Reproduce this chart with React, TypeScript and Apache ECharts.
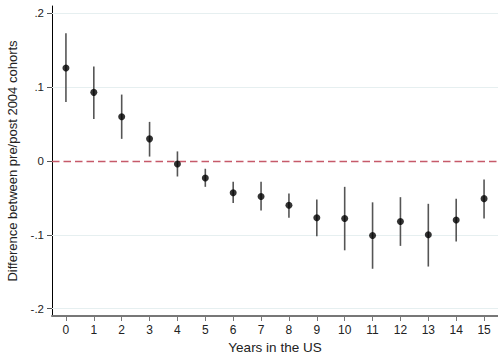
import React, { useEffect, useRef } from "react";
import * as echarts from "echarts";

// Years since arrival (x categories)
const years: string[] = ["0", "1", "2", "3", "4", "5", "6", "7", "8", "9", "10", "11", "12", "13", "14", "15"];
// Point estimates of the pre/post 2004 cohort difference
const estimates: number[] = [0.126, 0.093, 0.06, 0.03, -0.004, -0.023, -0.043, -0.048, -0.06, -0.077, -0.078, -0.101, -0.082, -0.1, -0.08, -0.051];
// Upper and lower confidence bounds
const upper: number[] = [0.173, 0.128, 0.09, 0.053, 0.013, -0.0105, -0.028, -0.028, -0.044, -0.052, -0.035, -0.056, -0.049, -0.058, -0.051, -0.025];
const lower: number[] = [0.08, 0.057, 0.03, 0.006, -0.021, -0.035, -0.057, -0.067, -0.077, -0.102, -0.121, -0.146, -0.115, -0.143, -0.109, -0.078];
// Y tick values
const yTicks: number[] = [-0.2, -0.1, 0, 0.1, 0.2];

const FONT = "Liberation Sans, Arial, Helvetica, sans-serif";

function fmtTick(v: number): string {
  if (Math.abs(v) < 1e-9) return "0";
  const s = String(Math.abs(Math.round(v * 1000) / 1000)).replace(/^0\./, ".");
  return (v < 0 ? "-" : "") + s;
}

export default function App() {
  const ref = useRef<HTMLDivElement>(null);
  useEffect(() => {
    if (!ref.current) return;
    const chart = echarts.init(ref.current, undefined, { renderer: "svg" });
    chart.setOption({
      animation: false,
      backgroundColor: "#ffffff",
      grid: { left: 52, right: 0, top: 6, bottom: 42, containLabel: false, outerBoundsMode: "none" },
      xAxis: {
        type: "category",
        data: years,
        boundaryGap: true,
        name: "Years in the US",
        nameLocation: "middle",
        nameGap: 23,
        nameTextStyle: { fontFamily: FONT, fontSize: 13.5, color: "#222" },
        axisLine: { show: true, onZero: false, lineStyle: { color: "#777", width: 2 } },
        axisTick: { show: true, alignWithLabel: true, length: 5, lineStyle: { color: "#777", width: 1 } },
        axisLabel: { fontFamily: FONT, fontSize: 12, color: "#222", margin: 8 },
        splitLine: { show: false },
      },
      yAxis: {
        type: "value",
        min: -0.21,
        max: 0.21,
        name: "Difference between pre/post 2004 cohorts",
        nameLocation: "middle",
        nameGap: 33,
        nameRotate: 90,
        nameTextStyle: { fontFamily: FONT, fontSize: 13, color: "#222" },
        axisLine: { show: true, lineStyle: { color: "#000", width: 1 } },
        axisTick: { show: true, length: 5, customValues: yTicks, lineStyle: { color: "#555" } },
        axisLabel: {
          fontFamily: FONT,
          fontSize: 11.5,
          color: "#222",
          margin: 8,
          customValues: yTicks,
          formatter: (v: number) => fmtTick(v),
        },
        splitLine: { show: false },
      },
      series: [
        {
          // light reference gridlines
          type: "line",
          data: [],
          silent: true,
          z: 0,
          markLine: {
            silent: true,
            z: 1,
            symbol: "none",
            label: { show: false },
            lineStyle: { color: "#e6eff0", width: 1.2, type: "solid" },
            data: yTicks.filter((t) => t !== 0).map((t) => ({ yAxis: t })),
          },
        },
        {
          // confidence intervals
          type: "custom",
          data: years.map((_, i) => [i, lower[i], upper[i]]),
          renderItem: (params: any, api: any) => {
            const x = api.value(0);
            const lo = api.coord([x, api.value(1)]);
            const hi = api.coord([x, api.value(2)]);
            return {
              type: "line",
              shape: { x1: lo[0], y1: lo[1], x2: hi[0], y2: hi[1] },
              style: { stroke: "#555", lineWidth: 1.6 },
            };
          },
          z: 3,
        },
        {
          type: "scatter",
          data: estimates,
          symbol: "circle",
          symbolSize: 7,
          itemStyle: { color: "#000" },
          z: 4,
        },
        {
          // dashed zero reference line
          type: "line",
          data: [],
          silent: true,
          z: 2,
          markLine: {
            silent: true,
            z: 2,
            symbol: "none",
            label: { show: false },
            lineStyle: { color: "#c65a6a", width: 1.3, type: [7.5, 4] },
            data: [{ yAxis: 0 }],
          },
        },
      ],
    });
    return () => chart.dispose();
  }, []);
  return (
    <div
      ref={ref}
      style={{ position: "fixed", left: 0, top: 0, width: 498, height: 358 }}
    />
  );
}
